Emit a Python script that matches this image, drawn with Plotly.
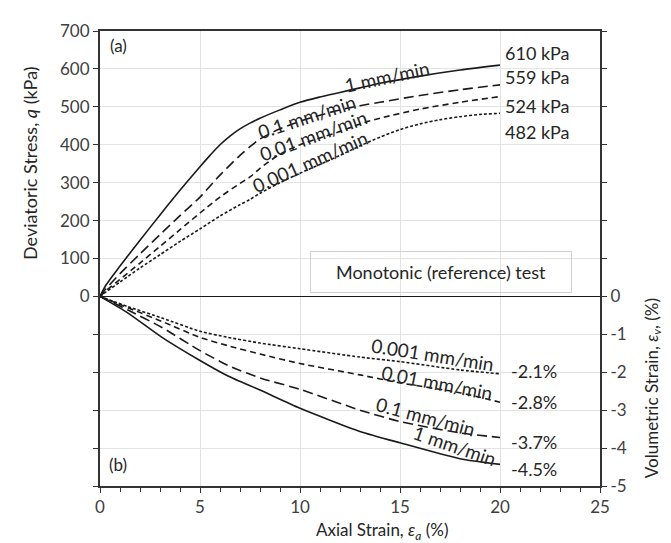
import plotly.graph_objects as go

# ---------------- data ----------------
strain_q_1 = [0, 0.3, 1, 2, 3, 4, 5, 5.5, 6, 6.5, 7, 7.5, 8, 9, 10, 11, 12, 13, 14, 16, 18, 20]
q_1 = [0, 30, 80, 148, 215, 280, 342, 372, 400, 423, 442, 457, 470, 492, 512, 526, 538, 550, 562, 581, 597, 610]

strain_q_01 = [0, 0.3, 1, 2, 3, 4, 5, 6, 7, 7.5, 8, 9, 10, 11, 12, 13, 14, 16, 18, 20]
q_01 = [0, 20, 60, 112, 163, 213, 262, 320, 372, 395, 415, 442, 462, 478, 492, 503, 512, 530, 545, 558]

strain_q_001 = [0, 0.3, 1, 2, 3, 4, 5, 6, 7, 7.5, 8, 9, 10, 11, 12, 13, 14, 16, 18, 20]
q_001 = [0, 15, 45, 88, 132, 176, 220, 262, 298, 315, 338, 375, 400, 418, 435, 455, 470, 494, 512, 527]

strain_q_0001 = [0, 0.3, 1, 2, 3, 4, 5, 6, 7, 7.5, 8, 9, 10, 11, 12, 13, 14, 15, 16, 17, 18, 19, 20]
q_0001 = [0, 12, 38, 75, 110, 145, 178, 212, 242, 256, 272, 300, 325, 348, 372, 397, 420, 440, 455, 466, 474, 480, 483]

strain_v = [0, 1.4, 3.1, 5, 6.4, 8, 10, 13, 15, 18, 20]
ev_1 = [0, -0.44, -1.08, -1.69, -2.1, -2.47, -2.95, -3.56, -3.86, -4.28, -4.43]
ev_01 = [0, -0.36, -0.82, -1.43, -1.82, -2.15, -2.45, -3.0, -3.3, -3.6, -3.72]
ev_001 = [0, -0.3, -0.66, -1.08, -1.3, -1.52, -1.77, -2.07, -2.28, -2.54, -2.79]
ev_0001 = [0, -0.27, -0.57, -0.92, -1.08, -1.23, -1.38, -1.6, -1.72, -1.94, -2.04]

rate_labels = ["1 mm/min", "0.1 mm/min", "0.01 mm/min", "0.001 mm/min"]
peak_labels = ["610 kPa", "559 kPa", "524 kPa", "482 kPa"]
ev_end_labels = ["-4.5%", "-3.7%", "-2.8%", "-2.1%"]

q_ticks = [-500, -400, -300, -200, -100, 0, 100, 200, 300, 400, 500, 600, 700]
q_ticktext = ["", "", "", "", "", "0", "100", "200", "300", "400", "500", "600", "700"]
ev_ticks = [-5, -4, -3, -2, -1, 0, 1, 2, 3, 4, 5, 6, 7]
ev_ticktext = ["-5", "-4", "-3", "-2", "-1", "0", "", "", "", "", "", "", ""]

FONT = "Lato"
LINE = "#1a1a1a"
TXT = "#262626"
TICK = "#404040"
dashes = ["solid", "10px,5px", "6px,4px", "3px,2px"]

fig = go.Figure()
q_series = [(strain_q_1, q_1), (strain_q_01, q_01), (strain_q_001, q_001), (strain_q_0001, q_0001)]
for (xs, ys), d, name in zip(q_series, dashes, rate_labels):
    fig.add_trace(go.Scatter(x=xs, y=ys, mode="lines", name=name, yaxis="y",
                             line=dict(color=LINE, width=1.6, dash=d, shape="spline", smoothing=0.8)))
for ys, d, name in zip([ev_1, ev_01, ev_001, ev_0001], dashes, rate_labels):
    fig.add_trace(go.Scatter(x=strain_v, y=ys, mode="lines", name=name, yaxis="y2",
                             line=dict(color=LINE, width=1.6, dash=d, shape="spline", smoothing=0.6)))

anns = []
def txt(x, y, t, size=18, xanchor="center", angle=0, xref="x", yref="y"):
    anns.append(dict(x=x, y=y, text=t, showarrow=False, xref=xref, yref=yref, xanchor=xanchor,
                     yanchor="middle", textangle=angle, font=dict(family=FONT, size=size, color=TXT)))

txt(0.9, 661, "(a)", 17)
txt(0.9, -444, "(b)", 17)
for lab, yv in zip(peak_labels, [643, 578, 503, 434]):
    txt(20.15, yv, lab, 18, xanchor="left")
for lab, yv in zip(ev_end_labels, [-454, -385, -279, -196]):
    txt(20.45, yv, lab, 18, xanchor="left")
# rate labels (upper)
for lab, (x, y, a) in zip(rate_labels, [(14.35, 580, -12), (10.35, 474, -18), (10.65, 425, -20), (10.5, 357, -24)]):
    txt(x, y, lab, 19, angle=a)
# rate labels (lower)
for lab, (x, y, a) in zip(rate_labels, [(17.75, -392, 19), (16.3, -316, 15), (16.85, -226, 11), (16.65, -153, 9)]):
    txt(x, y, lab, 19, angle=a)

anns.append(dict(x=17.07, y=65, xref="x", yref="y", text="Monotonic (reference) test", showarrow=False,
                 font=dict(family=FONT, size=18, color=TXT), bordercolor="#d0d0d0", borderwidth=1,
                 borderpad=9, width=242, align="center"))

# axis titles
txt(-0.14, 0.71, "Deviatoric Stress, <i>q</i> (kPa)", 18, angle=-90, xref="paper", yref="paper")
txt(1.106, 0.215, "Volumetric Strain, <i>ε<sub>v</sub></i>, (%)", 17, angle=-90, xref="paper", yref="paper")
txt(0.564, -0.098, "Axial Strain, <i>ε<sub>a</sub></i> (%)", 17, xref="paper", yref="paper")

fig.update_layout(
    width=663, height=535,
    margin=dict(l=92, r=71, t=12, b=57),
    paper_bgcolor="white", plot_bgcolor="white",
    showlegend=False,
    font=dict(family=FONT, size=17, color=TICK),
    annotations=anns,
    xaxis=dict(range=[0, 25], tickvals=[0, 5, 10, 15, 20, 25], showgrid=True, gridcolor="#e3e3e3",
               gridwidth=1, showline=True, linecolor="#333333", linewidth=2, mirror=True,
               ticks="outside", ticklen=5, tickcolor="#333333", zeroline=False,
               tickfont=dict(family=FONT, size=17, color=TICK),
               minor=dict(dtick=1, ticks="outside", ticklen=4, tickcolor="#333333", showgrid=False)),
    yaxis=dict(range=[-500, 700], tickvals=q_ticks, ticktext=q_ticktext, showgrid=True,
               gridcolor="#e3e3e3", gridwidth=1, showline=True, linecolor="#333333", linewidth=2,
               ticks="outside", ticklen=5, tickcolor="#333333",
               zeroline=True, zerolinecolor="#1a1a1a", zerolinewidth=1,
               tickfont=dict(family=FONT, size=17, color=TICK)),
    yaxis2=dict(range=[-5, 7], tickvals=ev_ticks, ticktext=ev_ticktext, overlaying="y", side="right",
                showgrid=False, showline=True, linecolor="#333333", linewidth=2,
                ticks="outside", ticklen=5, tickcolor="#333333", zeroline=False,
                tickfont=dict(family=FONT, size=17, color=TICK)),
)

fig.write_html("out.html")
